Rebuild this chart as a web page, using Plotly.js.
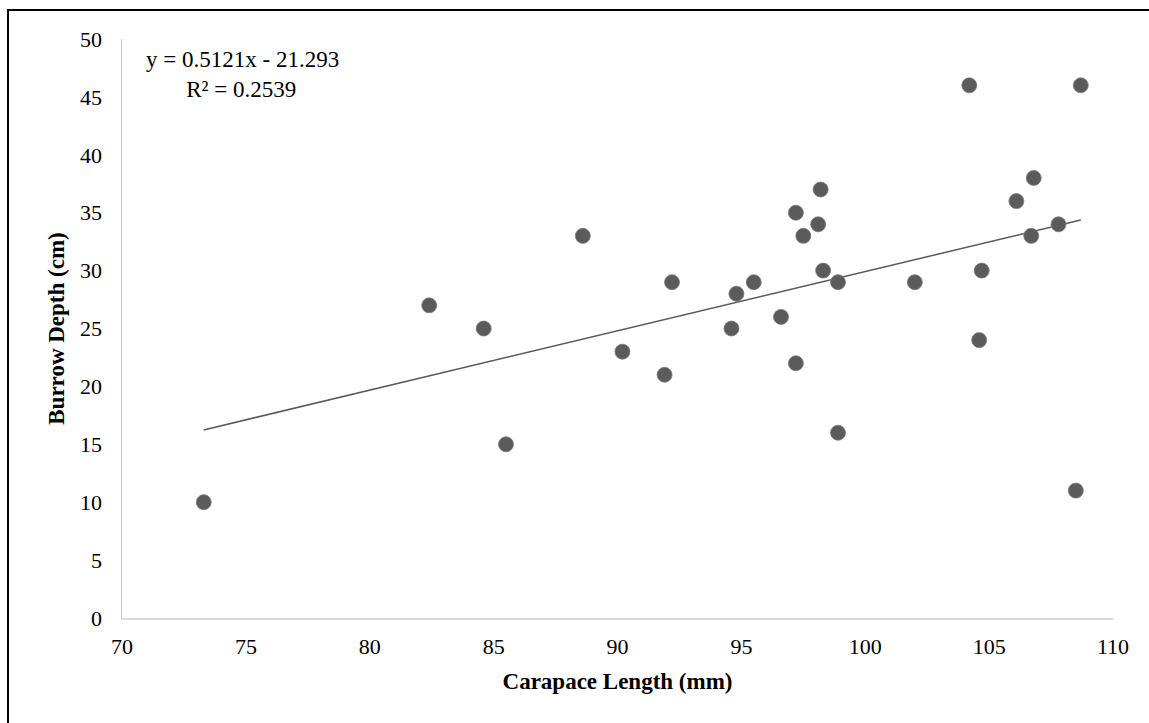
<!DOCTYPE html>
<html>
<head>
<meta charset="utf-8">
<script src="https://cdn.plot.ly/plotly-3.0.1.min.js"></script>
<style>
  html, body { margin: 0; padding: 0; background: #fff; }
  #frame { position: absolute; left: 7px; top: 9px; width: 1142px; height: 714px;
           border-left: 2px solid #000; border-top: 2px solid #000; box-sizing: border-box; pointer-events: none; z-index: 5; }
  #chart { width: 1149px; height: 723px; }
</style>
</head>
<body>
<div id="frame"></div>
<div id="chart"></div>
<script>
// Data
const carapaceLength = [73.3, 82.4, 84.6, 85.5, 88.6, 90.2, 91.9, 92.2, 94.6, 94.8,
                        95.5, 96.6, 97.2, 97.2, 97.5, 98.1, 98.2, 98.3, 98.9, 98.9,
                        102.0, 104.2, 104.6, 104.7, 106.1, 106.7, 106.8, 107.8, 108.5, 108.7];
const burrowDepth    = [10, 27, 25, 15, 33, 23, 21, 29, 25, 28,
                        29, 26, 22, 35, 33, 34, 37, 30, 29, 16,
                        29, 46, 24, 30, 36, 33, 38, 34, 11, 46];
const trendSlope = 0.5121;
const trendIntercept = -21.293;
const rSquared = 0.2539;
const xTicks = [70, 75, 80, 85, 90, 95, 100, 105, 110];
const yTicks = [0, 5, 10, 15, 20, 25, 30, 35, 40, 45, 50];

const xMin = Math.min(...carapaceLength);
const xMax = Math.max(...carapaceLength);
const trendX = [xMin, xMax];
const trendY = trendX.map(x => trendSlope * x + trendIntercept);

const serif = '"Liberation Serif", "Times New Roman", serif';

const traces = [
  {
    x: trendX, y: trendY, type: 'scatter', mode: 'lines',
    line: { color: '#595959', width: 1.5 }, hoverinfo: 'skip', showlegend: false
  },
  {
    x: carapaceLength, y: burrowDepth, type: 'scatter', mode: 'markers',
    marker: { size: 15, color: '#5b5b5b', line: { color: '#7a7a7a', width: 0.8 } },
    showlegend: false
  }
];

const layout = {
  width: 1149, height: 723,
  margin: { l: 122, r: 36, t: 39, b: 105 },
  paper_bgcolor: '#ffffff', plot_bgcolor: '#ffffff',
  font: { family: serif, size: 22, color: '#000' },
  showlegend: false,
  xaxis: {
    range: [70, 110], tickvals: xTicks, ticktext: xTicks.map(String),
    showgrid: false, zeroline: false, showline: true, linecolor: '#d9d9d9', linewidth: 1.5,
    ticks: 'outside', ticklen: 8, tickcolor: 'rgba(0,0,0,0)', tickfont: { family: serif, size: 22, color: '#000' },
    title: { text: '<b>Carapace Length (mm)</b>', font: { family: serif, size: 23, color: '#000' }, standoff: 15 }
  },
  yaxis: {
    range: [0, 50], tickvals: yTicks, ticktext: yTicks.map(String),
    showgrid: false, zeroline: false, showline: true, linecolor: '#bfc9da', linewidth: 1.5,
    ticks: 'outside', ticklen: 14, tickcolor: 'rgba(0,0,0,0)', tickfont: { family: serif, size: 22, color: '#000' },
    title: { text: '<b>Burrow Depth (cm)</b>', font: { family: serif, size: 23, color: '#000' }, standoff: 9 }
  },
  annotations: [
    {
      xref: 'paper', yref: 'paper', x: 0.022, y: 0.99, xanchor: 'left', yanchor: 'top',
      align: 'left', showarrow: false,
      text: 'y = ' + trendSlope + 'x - ' + Math.abs(trendIntercept) + '<br>       R² = ' + rSquared,
      font: { family: serif, size: 23, color: '#000' }
    }
  ]
};

Plotly.newPlot('chart', traces, layout, { displayModeBar: false, staticPlot: true });
</script>
</body>
</html>
